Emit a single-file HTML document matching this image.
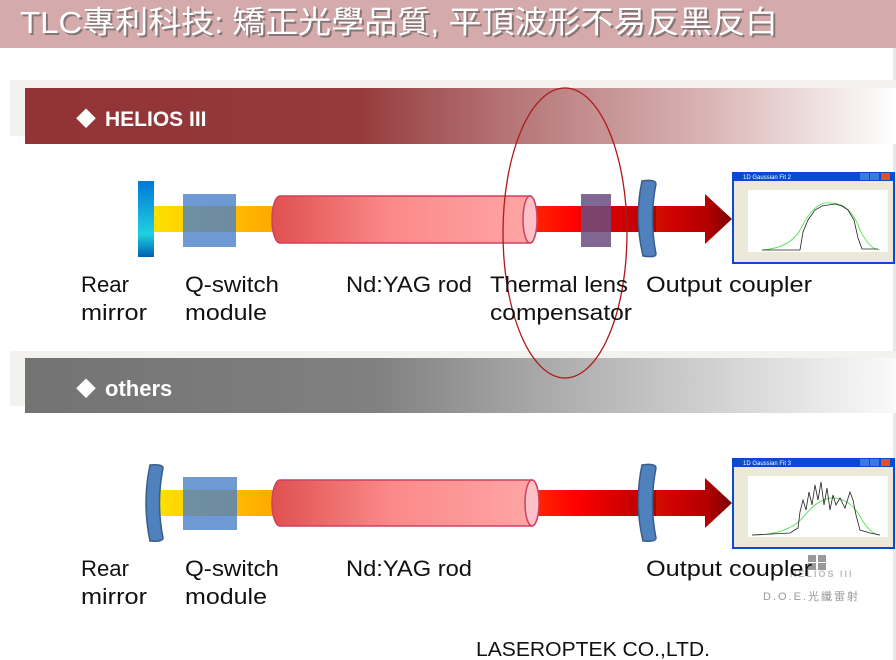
<!DOCTYPE html>
<html><head><meta charset="utf-8"><style>
html,body{margin:0;padding:0;background:#fff;}
svg{display:block;}
text{font-family:"Liberation Sans","Noto Sans CJK TC",sans-serif;}
</style></head><body>
<svg width="896" height="660" viewBox="0 0 896 660" xmlns="http://www.w3.org/2000/svg">
<defs>
<linearGradient id="redbar" x1="0" x2="1"><stop offset="0" stop-color="#923336"/><stop offset="0.38" stop-color="#963a3c"/><stop offset="0.55" stop-color="#b47375"/><stop offset="0.78" stop-color="#d9b3b4"/><stop offset="1" stop-color="#fff"/></linearGradient>
<linearGradient id="graybar" x1="0" x2="1"><stop offset="0" stop-color="#737373"/><stop offset="0.4" stop-color="#808080"/><stop offset="0.65" stop-color="#b5b5b5"/><stop offset="1" stop-color="#fafafa"/></linearGradient>
<linearGradient id="yel" x1="0" x2="1"><stop offset="0" stop-color="#ffe000"/><stop offset="1" stop-color="#ffa800"/></linearGradient>
<linearGradient id="rod" x1="0" x2="1"><stop offset="0" stop-color="#e05050"/><stop offset="0.45" stop-color="#fb8a8a"/><stop offset="1" stop-color="#ffa6a6"/></linearGradient>
<linearGradient id="beam" x1="0" x2="1"><stop offset="0" stop-color="#ff2a00"/><stop offset="0.25" stop-color="#ff0000"/><stop offset="1" stop-color="#7a0000"/></linearGradient>
<linearGradient id="rm" x1="0" x2="0" y1="0" y2="1"><stop offset="0" stop-color="#0078d8"/><stop offset="0.7" stop-color="#20d0e0"/><stop offset="1" stop-color="#0060b0"/></linearGradient>
</defs>

<rect x="0" y="0" width="896" height="48" fill="#d4aaab"/>
<text x="22" y="35" font-size="31" fill="#555" opacity="0.6" textLength="758" lengthAdjust="spacingAndGlyphs">TLC專利科技: 矯正光學品質, 平頂波形不易反黑反白</text>
<text x="20" y="33" font-size="31" fill="#fff" textLength="758" lengthAdjust="spacingAndGlyphs">TLC專利科技: 矯正光學品質, 平頂波形不易反黑反白</text>
<rect x="893" y="48" width="3" height="612" fill="#e8e8e8"/>

<rect x="10" y="80" width="886" height="56" fill="#f3f2ee"/>
<rect x="25" y="88" width="871" height="56" fill="url(#redbar)"/>
<text x="76" y="126" font-size="20" fill="#fff">◆</text>
<text x="105" y="126" font-size="21" font-weight="bold" fill="#fff">HELIOS III</text>

<rect x="10" y="351" width="886" height="55" fill="#f3f2ee"/>
<rect x="25" y="358" width="871" height="55" fill="url(#graybar)"/>
<text x="76" y="396" font-size="20" fill="#fff">◆</text>
<text x="105" y="396" font-size="22" font-weight="bold" fill="#fff">others</text>

<rect x="153" y="206" width="122" height="26" fill="url(#yel)"/>
<rect x="138" y="181" width="16" height="76" fill="url(#rm)"/>
<rect x="183" y="194" width="53" height="53" fill="#4a80c8" opacity="0.8"/>
<rect x="530" y="206" width="178" height="26" fill="url(#beam)"/>
<path d="M280 196 H530 A7 23.5 0 0 1 530 243 H280 A8 23.5 0 0 1 280 196 Z" fill="url(#rod)" stroke="#d04060" stroke-width="1.5"/>
<ellipse cx="530" cy="219.5" rx="7" ry="23.5" fill="#ffc0c8" stroke="#d04060" stroke-width="1.5"/>
<rect x="581" y="194" width="30" height="53" fill="#6a4d80" opacity="0.85"/>
<path d="M642 181 Q656 179 656 184 Q649 218 656 254 Q656 258 643 256 Q634 218 642 181 Z" fill="#4f81bd" stroke="#385d8a" stroke-width="1.5"/>
<path d="M656 206 H705 V194 L732 219 L705 244 V232 H656 Z" fill="url(#beam)"/>
<rect x="656" y="206" width="49" height="26" fill="#b00000" opacity="0.6"/>

<g>
<rect x="732" y="172" width="163" height="92" fill="#0a4ad0"/>
<rect x="734" y="181" width="159" height="81" fill="#ece9d8"/>
<rect x="748" y="190" width="140" height="62" fill="#fff"/>
<text x="743" y="179" font-size="6" fill="#fff">1D Gaussian Fit 2</text>
<rect x="860" y="173" width="9" height="7" fill="#3a7ae0"/><rect x="870" y="173" width="9" height="7" fill="#3a7ae0"/><rect x="881" y="173" width="9" height="7" fill="#e05030"/>
<path d="M762 250 Q790 248 800 230 Q815 200 830 203 Q850 202 860 230 Q870 250 880 250" fill="none" stroke="#40e040" stroke-width="0.8"/>
<path d="M762 250 H800 L803 232 L808 220 L815 210 L822 206 L828 205 L835 204 L842 206 L848 210 L854 220 L858 238 L862 249 H878" fill="none" stroke="#222" stroke-width="0.8"/>
</g>

<ellipse cx="565" cy="233" rx="62" ry="145" fill="none" stroke="#b01818" stroke-width="1.3"/>

<g font-size="22" fill="#111">
<text x="81" y="292" textLength="48" lengthAdjust="spacingAndGlyphs">Rear</text><text x="81" y="320" textLength="66" lengthAdjust="spacingAndGlyphs">mirror</text>
<text x="185" y="292" textLength="94" lengthAdjust="spacingAndGlyphs">Q-switch</text><text x="185" y="320" textLength="82" lengthAdjust="spacingAndGlyphs">module</text>
<text x="346" y="292" textLength="126" lengthAdjust="spacingAndGlyphs">Nd:YAG rod</text>
<text x="490" y="292" textLength="138" lengthAdjust="spacingAndGlyphs">Thermal lens</text><text x="490" y="320" textLength="142" lengthAdjust="spacingAndGlyphs">compensator</text>
<text x="646" y="292" textLength="166" lengthAdjust="spacingAndGlyphs">Output coupler</text>
</g>

<rect x="158" y="490" width="117" height="26" fill="url(#yel)"/>
<path d="M150 465 Q163 464 163 468 Q156 503 163 538 Q163 542 150 541 Q142 503 150 465 Z" fill="#4f81bd" stroke="#385d8a" stroke-width="1.5"/>
<rect x="183" y="477" width="54" height="53" fill="#4a80c8" opacity="0.8"/>
<rect x="532" y="490" width="176" height="26" fill="url(#beam)"/>
<path d="M280 480 H532 A7 23 0 0 1 532 526 H280 A8 23 0 0 1 280 480 Z" fill="url(#rod)" stroke="#d04060" stroke-width="1.5"/>
<ellipse cx="532" cy="503" rx="7" ry="23" fill="#ffc0c8" stroke="#d04060" stroke-width="1.5"/>
<path d="M642 465 Q656 463 656 468 Q649 503 656 538 Q656 542 643 541 Q634 503 642 465 Z" fill="#4f81bd" stroke="#385d8a" stroke-width="1.5"/>
<path d="M656 490 H705 V478 L732 503 L705 528 V516 H656 Z" fill="url(#beam)"/>
<rect x="656" y="490" width="49" height="26" fill="#b00000" opacity="0.6"/>

<g>
<rect x="732" y="458" width="163" height="91" fill="#0a4ad0"/>
<rect x="734" y="467" width="159" height="80" fill="#ece9d8"/>
<rect x="748" y="476" width="140" height="61" fill="#fff"/>
<text x="743" y="465" font-size="6" fill="#fff">1D Gaussian Fit 3</text>
<rect x="860" y="459" width="9" height="7" fill="#3a7ae0"/><rect x="870" y="459" width="9" height="7" fill="#3a7ae0"/><rect x="881" y="459" width="9" height="7" fill="#e05030"/>
<path d="M752 535 Q790 535 805 515 Q820 497 835 498 Q852 500 862 520 Q872 535 880 535" fill="none" stroke="#40e040" stroke-width="0.8"/>
<path d="M752 535 L790 533 L798 528 L800 512 L803 500 L806 510 L809 492 L812 505 L815 485 L818 500 L821 482 L824 505 L827 488 L830 510 L833 495 L836 505 L840 498 L845 508 L850 492 L853 500 L856 515 L860 530 L870 533 L880 535" fill="none" stroke="#222" stroke-width="0.8"/>
</g>

<rect x="808" y="555" width="8" height="7" fill="#999"/><rect x="818" y="555" width="8" height="7" fill="#999"/><rect x="808" y="563" width="8" height="7" fill="#999"/><rect x="818" y="563" width="8" height="7" fill="#999"/>
<text x="790" y="577" font-size="9" font-weight="bold" fill="#bbb" letter-spacing="2">HELIOS III</text>
<text x="763" y="600" font-size="11" fill="#999" letter-spacing="2">D.O.E.光纖雷射</text>

<g font-size="22" fill="#111">
<text x="81" y="576" textLength="48" lengthAdjust="spacingAndGlyphs">Rear</text><text x="81" y="604" textLength="66" lengthAdjust="spacingAndGlyphs">mirror</text>
<text x="185" y="576" textLength="94" lengthAdjust="spacingAndGlyphs">Q-switch</text><text x="185" y="604" textLength="82" lengthAdjust="spacingAndGlyphs">module</text>
<text x="346" y="576" textLength="126" lengthAdjust="spacingAndGlyphs">Nd:YAG rod</text>
<text x="646" y="576" textLength="166" lengthAdjust="spacingAndGlyphs">Output coupler</text>
</g>

<text x="476" y="656" font-size="20" fill="#111" textLength="234" lengthAdjust="spacingAndGlyphs">LASEROPTEK CO.,LTD.</text>
</svg>
</body></html>
